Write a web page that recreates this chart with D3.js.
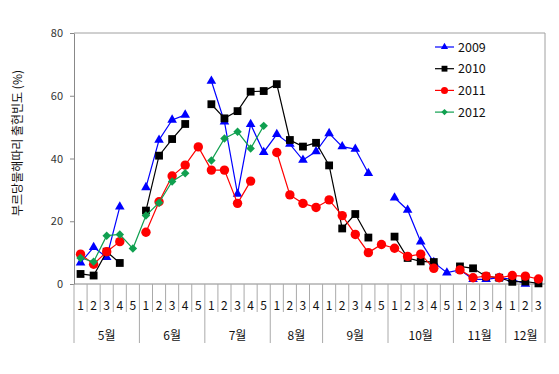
<!DOCTYPE html>
<html>
<head>
<meta charset="utf-8">
<script src="https://cdn.jsdelivr.net/npm/d3@7"></script>
<style>
  body { margin: 0; background: #fff; }
  text { font-family: "Noto Sans CJK KR", "Noto Sans", sans-serif; }
</style>
</head>
<body>
<div class="chart"></div>
<script>
// data
var months = ["5월", "6월", "7월", "8월", "9월", "10월", "11월", "12월"];
var weeksPerMonth = [5, 5, 5, 4, 5, 5, 4, 3];
var years = ["2009", "2010", "2011", "2012"];
var yTicks = [0, 20, 40, 60, 80];

var v2009 = [6.8, 11.7, 8.5, 24.6, null, 30.8, 45.9, 52.3, 53.9, null,
  64.7, 51.7, 28.7, 50.9, 42.0, 47.7, 44.6, 39.5, 42.2, 48.0, 43.8, 43.0, 35.3, null,
  27.5, 23.6, 13.5, 6.9, 3.6, 4.5, 1.5, 1.5, 2.0, 1.5, 0, null];
var v2010 = [3.2, 2.7, 10.3, 6.7, null, 23.4, 40.9, 46.2, 51.0, null,
  57.3, 52.8, 55.1, 61.3, 61.5, 63.7, 45.9, 43.8, 45.0, 37.8, 17.7, 22.3, 14.8, null,
  15.1, 8.3, 7.2, 7.0, null, 5.6, 5.0, 2.4, 2.0, 0.7, 0.8, 0.2];
var v2011 = [9.5, 6.3, 10.3, 13.5, null, 16.5, 26.2, 34.4, 37.9, 43.7,
  36.3, 36.3, 25.7, 32.8, null, 41.9, 28.4, 25.7, 24.4, 26.8, 21.8, 15.8, 10.0, 12.6,
  11.4, 8.8, 9.5, 5.0, null, 4.5, 2.0, 2.5, 2.0, 2.7, 2.5, 1.6];
var v2012 = [8.3, 7.1, 15.4, 15.8, 11.3, 21.8, 25.9, 32.7, 35.3, null,
  39.4, 46.4, 48.5, 43.2, 50.4, null, null, null, null, null, null, null, null, null,
  null, null, null, null, null, null, null, null, null, null, null, null];

var seriesValues = [v2009, v2010, v2011, v2012];
var colors = ["#0000ff", "#000000", "#ff0000", "#10a050"];
var markers = ["triangle", "square", "circle", "diamond"];

// build the week categories
var weeks = [];
months.forEach(function(m, mi) {
  for (var w = 1; w <= weeksPerMonth[mi]; w++) {
    weeks.push({ month: mi, week: w, key: m + w });
  }
});

var svgWidth = 559, svgHeight = 374;
var plotLeft = 74, plotRight = 545, plotTop = 33, plotBottom = 284;

var svg = d3.select(".chart").append("svg")
  .attr("width", svgWidth)
  .attr("height", svgHeight)
  .style("display", "block");

svg.append("rect").attr("width", svgWidth).attr("height", svgHeight).attr("fill", "#fff");

var x = d3.scaleBand().domain(weeks.map(function(d) { return d.key; })).range([plotLeft, plotRight]);
var y = d3.scaleLinear().domain([0, 80]).range([plotBottom, plotTop]);

// frame (top and right)
svg.append("path")
  .attr("d", "M" + plotLeft + "," + plotTop + "H" + plotRight + "V" + plotBottom)
  .attr("fill", "none").attr("stroke", "#a0a0a0").attr("stroke-width", 1);

// y axis
var yAxis = svg.append("g")
  .attr("transform", "translate(" + plotLeft + ",0)")
  .call(d3.axisLeft(y).tickValues(yTicks).tickSize(4).tickPadding(7).tickSizeOuter(0));
yAxis.select(".domain").attr("stroke", "#888");
yAxis.selectAll(".tick line").attr("stroke", "#888");
yAxis.selectAll(".tick text").attr("font-size", 11).attr("fill", "#333")
  .attr("font-family", "'Noto Sans CJK KR', sans-serif");

// x axis line
svg.append("line")
  .attr("x1", plotLeft).attr("x2", plotRight).attr("y1", plotBottom).attr("y2", plotBottom)
  .attr("stroke", "#888");

// week separators and labels
var catAxis = svg.append("g");
weeks.forEach(function(d, i) {
  var x0 = x(d.key);
  var monthStart = d.week === 1;
  catAxis.append("line")
    .attr("x1", x0).attr("x2", x0)
    .attr("y1", plotBottom).attr("y2", monthStart ? 343 : 312)
    .attr("stroke", "#aaa");
  catAxis.append("text")
    .attr("x", x0 + x.bandwidth() / 2).attr("y", 310)
    .attr("text-anchor", "middle").attr("font-size", 12).attr("fill", "#111")
    .text(d.week);
});
catAxis.append("line")
  .attr("x1", plotRight).attr("x2", plotRight).attr("y1", plotBottom).attr("y2", 343)
  .attr("stroke", "#aaa");

// month labels
var start = 0;
months.forEach(function(m, mi) {
  var first = weeks[start].key;
  var last = weeks[start + weeksPerMonth[mi] - 1].key;
  var cx = (x(first) + x(last) + x.bandwidth()) / 2;
  catAxis.append("text")
    .attr("x", cx).attr("y", 340)
    .attr("text-anchor", "middle").attr("font-size", 12).attr("fill", "#111")
    .text(m);
  start += weeksPerMonth[mi];
});

// y axis title
svg.append("text")
  .attr("transform", "translate(22,143) rotate(-90)")
  .attr("text-anchor", "middle").attr("font-size", 12).attr("fill", "#111")
  .text("부르당물해따리 출현빈도 (%)");

function drawMarker(g, type, cx, cy, color, scale) {
  var s = scale || 1;
  if (type === "triangle") {
    g.append("path")
      .attr("d", d3.symbol().type(d3.symbolTriangle).size(40 * s * s)())
      .attr("transform", "translate(" + cx + "," + cy + ")")
      .attr("fill", color);
  } else if (type === "square") {
    g.append("rect")
      .attr("x", cx - 3.9 * s).attr("y", cy - 3.9 * s)
      .attr("width", 7.8 * s).attr("height", 7.8 * s)
      .attr("fill", color);
  } else if (type === "circle") {
    g.append("circle").attr("cx", cx).attr("cy", cy).attr("r", 4.7 * s).attr("fill", color);
  } else {
    g.append("rect")
      .attr("x", -3 * s).attr("y", -3 * s)
      .attr("width", 6 * s).attr("height", 6 * s)
      .attr("transform", "translate(" + cx + "," + cy + ") rotate(45)")
      .attr("fill", color);
  }
}

var line = d3.line()
  .defined(function(d) { return d.v !== null; })
  .x(function(d) { return x(d.key) + x.bandwidth() / 2; })
  .y(function(d) { return y(d.v); });

seriesValues.forEach(function(vals, si) {
  var pts = weeks.map(function(w, i) { return { key: w.key, v: vals[i] }; });
  var g = svg.append("g");
  g.append("path")
    .attr("d", line(pts))
    .attr("fill", "none").attr("stroke", colors[si]).attr("stroke-width", 1.2);
  pts.forEach(function(p) {
    if (p.v === null) return;
    drawMarker(g, markers[si], x(p.key) + x.bandwidth() / 2, y(p.v), colors[si]);
  });
});

// legend
var legend = svg.append("g");
years.forEach(function(yr, i) {
  var ly = 47 + i * 21.7;
  legend.append("line")
    .attr("x1", 435).attr("x2", 454).attr("y1", ly).attr("y2", ly)
    .attr("stroke", colors[i]).attr("stroke-width", 1.2);
  drawMarker(legend, markers[i], 444.5, ly, colors[i], 0.75);
  legend.append("text")
    .attr("x", 458).attr("y", ly + 4.5)
    .attr("font-size", 12.5).attr("fill", "#111")
    .text(yr);
});
</script>
</body>
</html>
